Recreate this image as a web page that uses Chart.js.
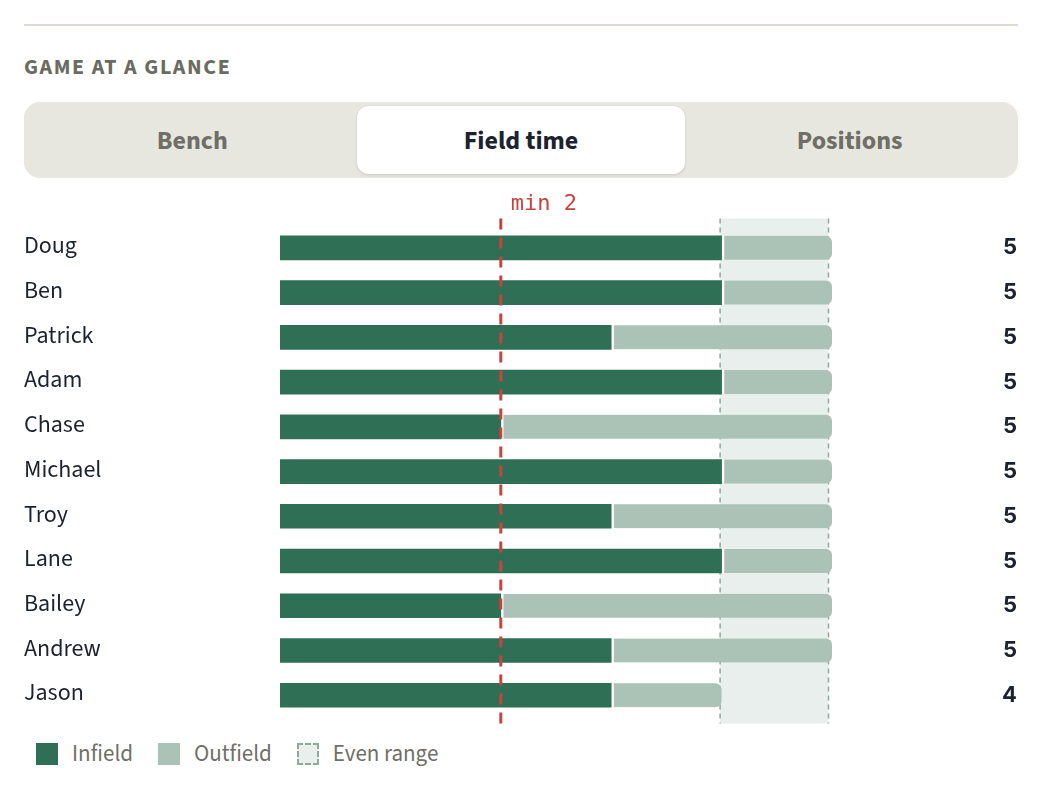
<!DOCTYPE html>
<html>
<head>
<meta charset="utf-8">
<script src="https://cdn.jsdelivr.net/npm/chart.js@4"></script>
<style>
  html, body { margin: 0; padding: 0; background: #fff; }
  body { width: 1042px; height: 794px; position: relative; overflow: hidden;
         font-family: "Source Sans 3", "Source Sans Pro", Lato, sans-serif; }
  .rule { position: absolute; left: 24px; top: 24px; width: 994px; height: 2px; background: #dcdad1; }
  .title { position: absolute; left: 24px; top: 53px; font-size: 22px; font-weight: 700;
           letter-spacing: 1.6px; color: #6b6b63; line-height: 28px; }
  .tabs { position: absolute; left: 24px; top: 102px; width: 994px; height: 76px; box-sizing: border-box;
          padding: 4px; background: #e7e6df; border-radius: 16px; display: flex; }
  .tab { flex: 1; display: flex; align-items: center; justify-content: center;
         font-size: 26px; font-weight: 700; color: #6f6f68; border-radius: 12px; }
  .tab.active { background: #fff; color: #1c2330; box-shadow: 0 1px 3px rgba(0,0,0,0.14); }
  #fieldChart { position: absolute; left: 24px; top: 187px; }
  .legend { position: absolute; left: 36px; top: 742px; display: flex; align-items: center;
            font-size: 23px; color: #6f6f68; line-height: 24px; }
  .legend .sw { width: 22px; height: 22px; box-sizing: border-box; margin-right: 14px; }
  .legend .item { display: flex; align-items: center; margin-right: 25px; }
</style>
</head>
<body>
<div class="rule"></div>
<div class="title">GAME AT A GLANCE</div>
<div class="tabs">
  <div class="tab">Bench</div>
  <div class="tab active">Field time</div>
  <div class="tab">Positions</div>
</div>
<canvas id="fieldChart" width="994" height="545"></canvas>
<div class="legend">
  <div class="item"><div class="sw" style="background:#2e6f55"></div>Infield</div>
  <div class="item"><div class="sw" style="background:#aac3b6"></div>Outfield</div>
  <div class="item"><div class="sw" style="background:#e9efec;border:2px dashed #8fa99b"></div>Even range</div>
</div>
<script>
const players = ['Doug', 'Ben', 'Patrick', 'Adam', 'Chase', 'Michael', 'Troy', 'Lane', 'Bailey', 'Andrew', 'Jason'];
const infield = [4, 4, 3, 4, 2, 4, 3, 4, 2, 3, 3];
const outfield = [1, 1, 2, 1, 3, 1, 2, 1, 3, 2, 1];
const minInnings = 2;
const evenRange = [4, 5];
const maxInnings = 5;

const inkColor = '#1c2330';
const redColor = '#c9433d';

// band behind the bars, min line + totals on top
const overlays = {
    id: 'overlays',
    beforeDatasetsDraw(chart) {
        const { ctx, chartArea: a, scales: { x } } = chart;
        const x0 = x.getPixelForValue(evenRange[0]) - 1.5;
        const x1 = x.getPixelForValue(evenRange[1]) - 3.5;
        ctx.save();
        ctx.fillStyle = '#e9efec';
        ctx.fillRect(x0, a.top - 7, x1 - x0, a.bottom - a.top + 13);
        ctx.strokeStyle = '#8fa99b';
        ctx.lineWidth = 1.5;
        ctx.setLineDash([5, 4]);
        [x0, x1].forEach(px => {
            ctx.beginPath();
            ctx.moveTo(px, a.top - 7);
            ctx.lineTo(px, a.bottom + 6);
            ctx.stroke();
        });
        ctx.restore();
    },
    afterDatasetsDraw(chart) {
        const { ctx, chartArea: a, scales: { x, y } } = chart;
        const mx = x.getPixelForValue(minInnings);
        ctx.save();
        ctx.strokeStyle = redColor;
        ctx.lineWidth = 3;
        ctx.setLineDash([11, 8]);
        ctx.beginPath();
        ctx.moveTo(mx, a.top - 7);
        ctx.lineTo(mx, a.bottom + 6);
        ctx.stroke();

        ctx.fillStyle = redColor;
        ctx.font = '22px "DejaVu Sans Mono", "Liberation Mono", monospace';
        ctx.textAlign = 'left';
        ctx.textBaseline = 'alphabetic';
        ctx.fillText('min ' + minInnings, mx + 10, a.top - 16);

        ctx.fillStyle = inkColor;
        ctx.font = '700 22px Inter, "Liberation Sans", sans-serif';
        ctx.textAlign = 'right';
        ctx.textBaseline = 'middle';
        players.forEach((p, i) => {
            ctx.fillText(String(infield[i] + outfield[i]), chart.width - 1, y.getPixelForValue(i));
        });
        ctx.restore();
    }
};

document.addEventListener('DOMContentLoaded', function() {
    const ctx = document.getElementById('fieldChart').getContext('2d');
    new Chart(ctx, {
        type: 'bar',
        data: {
            labels: players,
            datasets: [{
                label: 'Infield',
                data: infield,
                backgroundColor: '#2e6f55',
                borderWidth: 0,
                borderRadius: 0,
                barThickness: 24
            }, {
                label: 'Outfield',
                data: outfield,
                backgroundColor: '#aac3b6',
                borderColor: '#ffffff',
                borderWidth: { left: 3, right: 0, top: 0, bottom: 0 },
                borderSkipped: false,
                borderRadius: { topLeft: 0, bottomLeft: 0, topRight: 6, bottomRight: 6 },
                barThickness: 24
            }]
        },
        options: {
            indexAxis: 'y',
            responsive: false,
            animation: false,
            layout: { padding: { top: 38.5, bottom: 11.5, left: 0, right: 186 } },
            scales: {
                x: {
                    stacked: true,
                    min: 0,
                    max: maxInnings,
                    display: false
                },
                y: {
                    stacked: true,
                    grid: { display: false },
                    border: { display: false },
                    afterFit: function(scale) { scale.width = 256; },
                    ticks: {
                        crossAlign: 'far',
                        padding: 0,
                        color: inkColor,
                        font: { size: 24, family: '"Source Sans 3", "Source Sans Pro", Lato, sans-serif' }
                    }
                }
            },
            plugins: {
                legend: { display: false },
                tooltip: { enabled: false }
            }
        },
        plugins: [overlays]
    });
});
</script>
</body>
</html>
